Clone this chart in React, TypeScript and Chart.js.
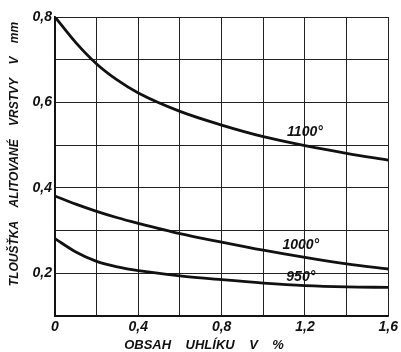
import React, { useEffect, useRef } from "react";
import { Chart, registerables } from "chart.js";

Chart.register(...registerables);

const carbon = [0, 0.1, 0.2, 0.3, 0.4, 0.6, 0.8, 1.0, 1.2, 1.4, 1.6];
const t1100 = [0.8, 0.74, 0.69, 0.652, 0.622, 0.579, 0.547, 0.52, 0.499, 0.481, 0.465];
const t1000 = [0.381, 0.362, 0.345, 0.33, 0.317, 0.293, 0.273, 0.254, 0.237, 0.222, 0.21];
const t950 = [0.281, 0.25, 0.228, 0.215, 0.206, 0.194, 0.185, 0.177, 0.171, 0.168, 0.167];
const seriesNames = ["1100°", "1000°", "950°"];
const labelAnchors = [
  [1.2, 0.531],
  [1.18, 0.267],
  [1.18, 0.192],
];
const xTitle = "OBSAH    UHLÍKU    V    %";
const yTitle = "TLOUŠŤKA    ALITOVANÉ    VRSTVY    V    mm";

const FONT = '"Liberation Sans", "DejaVu Sans", sans-serif';

export default function App() {
  const ref = useRef<HTMLCanvasElement>(null);
  useEffect(() => {
    document.body.style.margin = "0";
    const ctx = ref.current!.getContext("2d")!;
    const mk = (vals: number[]) => vals.map((v, i) => ({ x: carbon[i], y: v }));
    const labelPlugin = {
      id: "labels",
      afterDraw(chart: any) {
        const c = chart.ctx;
        const xs = chart.scales.x;
        const ys = chart.scales.y;
        c.save();
        c.fillStyle = "#111";
        c.font = `italic bold 14px ${FONT}`;
        c.textAlign = "center";
        c.textBaseline = "middle";
        seriesNames.forEach((n, i) => {
          c.fillText(n, xs.getPixelForValue(labelAnchors[i][0]), ys.getPixelForValue(labelAnchors[i][1]));
        });
        c.font = `italic bold 13px ${FONT}`;
        c.fillText(xTitle, 204, 345);
        c.translate(15, 154);
        c.rotate(-Math.PI / 2);
        c.font = `italic bold 12px ${FONT}`;
        c.fillText(yTitle, 0, 0);
        c.restore();
      },
    };
    const chart = new Chart(ctx, {
      type: "line",
      data: {
        datasets: [t1100, t1000, t950].map((d, i) => ({
          label: seriesNames[i],
          data: mk(d),
          borderColor: "#111",
          borderWidth: 2.8,
          pointRadius: 0,
          cubicInterpolationMode: "monotone" as const,
          fill: false,
        })),
      },
      options: {
        animation: false,
        responsive: false,
        layout: { padding: { top: 17, right: 9, left: 0, bottom: 0 } },
        plugins: { legend: { display: false }, tooltip: { enabled: false } },
        scales: {
          x: {
            type: "linear",
            min: 0,
            max: 1.6,
            afterFit: (s: any) => {
              s.height = 36;
            },
            ticks: {
              stepSize: 0.2,
              padding: 3,
              color: "#111",
              font: { family: FONT, size: 14, style: "italic", weight: "bold" },
              callback: (v: any) => {
                const k = Math.round(v * 10);
                if (k % 4 !== 0) return "";
                return k === 0 ? "0" : (k / 10).toFixed(1).replace(".", ",");
              },
            },
            grid: { color: "#222", lineWidth: 1, drawTicks: false },
            border: { color: "#111", width: 1.8 },
          },
          y: {
            type: "linear",
            min: 0.1,
            max: 0.8,
            afterFit: (s: any) => {
              s.width = 55;
            },
            ticks: {
              stepSize: 0.1,
              padding: 3,
              color: "#111",
              font: { family: FONT, size: 14, style: "italic", weight: "bold" },
              callback: (v: any) => {
                const k = Math.round(v * 10);
                if (k % 2 !== 0) return "";
                return (k / 10).toFixed(1).replace(".", ",");
              },
            },
            grid: { color: "#222", lineWidth: 1, drawTicks: false },
            border: { color: "#111", width: 1.8 },
          },
        },
      },
      plugins: [labelPlugin],
    });
    return () => chart.destroy();
  }, []);
  return <canvas ref={ref} width={401} height={352} style={{ display: "block" }} />;
}
